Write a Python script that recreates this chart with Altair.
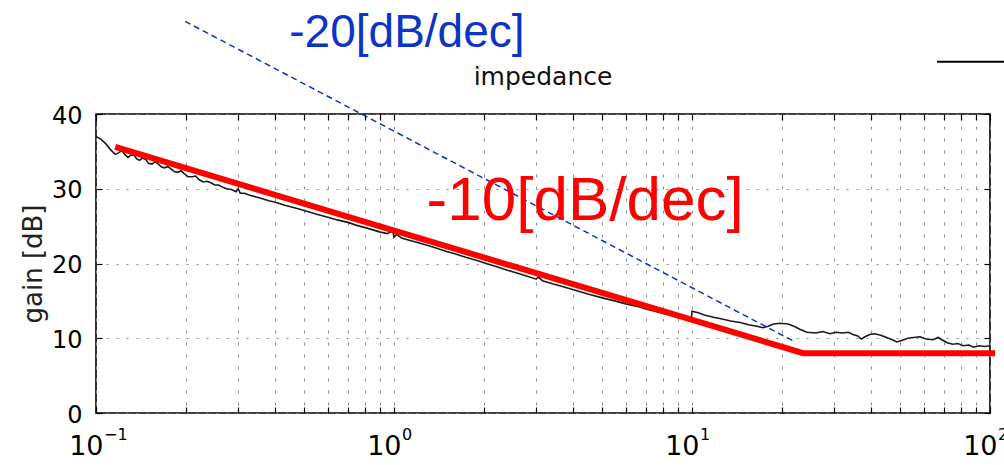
import altair as alt
import pandas as pd

# ---------------- data ----------------
meas_f = [0.100, 0.104, 0.108, 0.112, 0.116, 0.119, 0.122, 0.125, 0.128, 0.131,
          0.134, 0.137, 0.140, 0.143, 0.147, 0.150, 0.154, 0.158, 0.162, 0.166,
          0.170, 0.174, 0.178, 0.183, 0.188, 0.193, 0.198, 0.204, 0.210, 0.216,
          0.222, 0.229, 0.236, 0.243, 0.250, 0.258, 0.266, 0.275, 0.285, 0.295,
          0.300, 0.305, 0.315, 0.330, 0.345, 0.360, 0.380, 0.400, 0.430, 0.460,
          0.500, 0.550, 0.600, 0.650, 0.700, 0.750, 0.800, 0.850, 0.900, 0.950,
          0.990, 1.000, 1.020, 1.060, 1.100, 1.150, 1.200, 1.300, 1.400, 1.500,
          1.600, 1.750, 1.900, 2.000, 2.200, 2.400, 2.600, 2.800, 3.000, 3.050,
          3.150, 3.400, 3.700, 4.000, 4.500, 5.000, 5.500, 6.000, 6.500, 7.000,
          7.500, 8.000, 8.500, 9.000, 9.500, 9.950,
          10.00, 10.50, 11.00, 11.80, 12.50, 13.50, 14.50, 15.50, 16.50, 17.30,
          18.00, 18.80, 19.80, 21.00, 22.00, 23.00, 24.30, 26.00, 27.50, 29.00,
          30.50, 32.00, 33.50, 34.70, 36.00, 37.00, 38.10, 39.50, 41.00, 43.00,
          45.00, 47.00, 48.70, 50.50, 53.00, 55.50, 58.20, 61.00, 64.40, 67.00,
          69.00, 71.80, 75.00, 78.00, 81.20, 85.00, 88.00, 92.00, 96.00, 100.0]
meas_db = [37.0, 36.6, 36.0, 35.2, 34.6, 34.8, 35.1, 34.6, 34.2, 34.5,
           34.5, 34.0, 33.8, 34.1, 33.9, 33.4, 33.3, 33.6, 33.3, 32.9,
           32.8, 33.0, 32.7, 32.3, 32.2, 32.4, 32.0, 31.6, 31.6, 31.7,
           31.2, 30.9, 31.0, 30.8, 30.5, 30.5, 30.2, 30.0, 29.9, 29.6,
           30.0, 29.4, 29.4, 29.1, 28.9, 28.7, 28.4, 28.2, 27.8, 27.5,
           27.1, 26.6, 26.2, 25.8, 25.5, 25.1, 24.8, 24.5, 24.2, 24.0,
           24.4, 23.5, 23.9, 23.4, 23.2, 23.0, 22.8, 22.4, 22.0, 21.6,
           21.3, 20.8, 20.4, 20.1, 19.6, 19.1, 18.7, 18.3, 17.9, 18.2,
           17.7, 17.3, 16.9, 16.5, 15.9, 15.4, 15.0, 14.6, 14.3, 13.9,
           13.6, 13.3, 13.1, 12.9, 12.6, 12.4,
           13.6, 13.4, 13.1, 12.8, 12.6, 12.3, 12.1, 11.8, 11.6, 11.4,
           11.6, 11.9, 12.0, 11.9, 11.6, 11.2, 10.8, 10.7, 10.9, 10.6,
           10.8, 10.7, 10.8, 10.5, 10.3, 9.9, 10.2, 10.5, 10.6, 10.4,
           10.1, 9.8, 9.5, 9.7, 10.0, 10.1, 10.2, 9.9, 9.8, 10.1,
           9.8, 9.4, 9.2, 9.3, 9.0, 9.1, 8.8, 9.0, 8.9, 9.0]

red_f = [0.116, 23.6, 104.0]          # -10 dB/dec asymptote + floor
red_db = [35.6, 8.0, 8.0]

blue_f = [0.199, 22.2]                # -20 dB/dec reference slope
blue_db = [52.4, 9.5]

legend_f = [66.4, 117.0]              # legend line sample (top right)
legend_db = [47.0, 47.0]

x_ticks = [0.1, 0.2, 0.3, 0.4, 0.5, 0.6, 0.7, 0.8, 0.9,
           1, 2, 3, 4, 5, 6, 7, 8, 9,
           10, 20, 30, 40, 50, 60, 70, 80, 90, 100]
y_ticks = [0, 10, 20, 30, 40]
decades = [0.1, 1, 10, 100]
exponents = ["\u22121", "0", "1", "2"]

blue_label = ["-20[dB/dec]"]
blue_label_f = [1.105]
blue_label_db = [49.0]
red_label = ["-10[dB/dec]"]
red_label_f = [4.38]
red_label_db = [25.8]

title_text = ["impedance"]
title_f = [3.1623]        # centre of the log axis
title_db = [40]           # top of plot; raised with dy
y_title = "gain [dB]"

# ---------------- tables ----------------
meas = pd.DataFrame({"f": meas_f, "db": meas_db, "i": list(range(len(meas_f)))})
red = pd.DataFrame({"f": red_f, "db": red_db, "i": [0, 1, 2]})
blue = pd.DataFrame({"f": blue_f, "db": blue_db})
leg = pd.DataFrame({"f": legend_f, "db": legend_db})
exp_df = pd.DataFrame({"f": decades, "t": exponents, "db": [0] * len(decades)})
blue_txt = pd.DataFrame({"f": blue_label_f, "db": blue_label_db, "t": blue_label})
red_txt = pd.DataFrame({"f": red_label_f, "db": red_label_db, "t": red_label})
ttl = pd.DataFrame({"f": title_f, "db": title_db, "t": title_text})

xs = alt.Scale(type="log", domain=[0.1, 100], nice=False)
ys = alt.Scale(domain=[0, 40], nice=False)

AX_FONT = "DejaVu Sans"

x_bottom = alt.Axis(
    orient="bottom", values=x_ticks,
    labelExpr="abs(log(datum.value)/LN10 - round(log(datum.value)/LN10)) < 1e-6 ? '10' : ''",
    labelAlign="right", labelOffset=7, labelBaseline="alphabetic", labelPadding=41,
    labelFont=AX_FONT, labelFontSize=27, labelColor="black",
    labelOverlap=False, labelFlush=False, labelBound=False,
    offset=-6, tickSize=6, ticks=True, tickColor="black", tickWidth=1.2,
    domain=False, grid=True, gridColor="#8c8c8c", gridDash=[3, 9], gridWidth=1,
    title=None,
)
y_left = alt.Axis(
    orient="left", values=y_ticks,
    labelFont=AX_FONT, labelFontSize=24, labelColor="black", labelPadding=14,
    labelBaseline="middle", labelOffset=2,
    offset=-6, tickSize=6, ticks=True, tickColor="black", tickWidth=1.2,
    domain=False, grid=True, gridColor="#8c8c8c", gridDash=[2, 8], gridWidth=1,
    title=y_title, titleFont=AX_FONT, titleFontSize=26, titleFontWeight="normal",
    titleColor="#222222", titleAngle=270, titleX=-69, titleY=149.5,
    titleAlign="center", titleBaseline="middle",
)
x_top = alt.Axis(orient="top", values=x_ticks, labels=False, offset=-6, tickSize=6,
                 tickColor="black", tickWidth=1.2, domain=False, grid=False, title=None)
y_right = alt.Axis(orient="right", values=y_ticks, labels=False, offset=-6, tickSize=6,
                   tickColor="black", tickWidth=1.2, domain=False, grid=False, title=None)


def xy(axis_x=None, axis_y=None):
    return dict(
        x=alt.X("f:Q", scale=xs, axis=axis_x),
        y=alt.Y("db:Q", scale=ys, axis=axis_y),
    )


curve = alt.Chart(meas).mark_line(color="#1a1a1a", strokeWidth=1.6).encode(
    order="i:Q", **xy(x_bottom, y_left)
)

blue_line = alt.Chart(blue).mark_line(
    color="#0b34c8", strokeWidth=1.5, strokeDash=[6, 4]
).encode(**xy())

red_line = alt.Chart(red).mark_line(color="#ff0000", strokeWidth=6).encode(
    order="i:Q", **xy(x_top, y_right)
)

legend_line = alt.Chart(leg).mark_line(color="black", strokeWidth=2).encode(**xy())

exp_text = alt.Chart(exp_df).mark_text(
    align="left", baseline="alphabetic", dx=8, dy=27,
    font=AX_FONT, fontSize=16, color="black",
).encode(text="t:N", **xy())

blue_text = alt.Chart(blue_txt).mark_text(
    align="center", baseline="alphabetic", font="Liberation Sans", fontSize=46, color="#0b34c8",
).encode(text="t:N", **xy())

red_text = alt.Chart(red_txt).mark_text(
    align="center", baseline="alphabetic", font="Liberation Sans", fontSize=62, color="#ff0000",
).encode(text="t:N", **xy())

title_mark = alt.Chart(ttl).mark_text(
    align="center", baseline="alphabetic", dy=-29,
    font=AX_FONT, fontSize=25, color="#111111",
).encode(text="t:N", **xy())

chart = alt.layer(
    curve, blue_line, red_line, legend_line, exp_text, blue_text, red_text, title_mark
).resolve_axis(
    x="independent", y="independent"
).properties(
    width=894, height=299,
    padding={"left": 96, "top": 114, "right": 14, "bottom": 52},
    autosize=alt.AutoSizeParams(type="none"),
    background="white",
).configure_view(
    stroke="black", strokeWidth=1.6
)

chart.save("out.html", embed_options={"renderer": "svg", "actions": False})
